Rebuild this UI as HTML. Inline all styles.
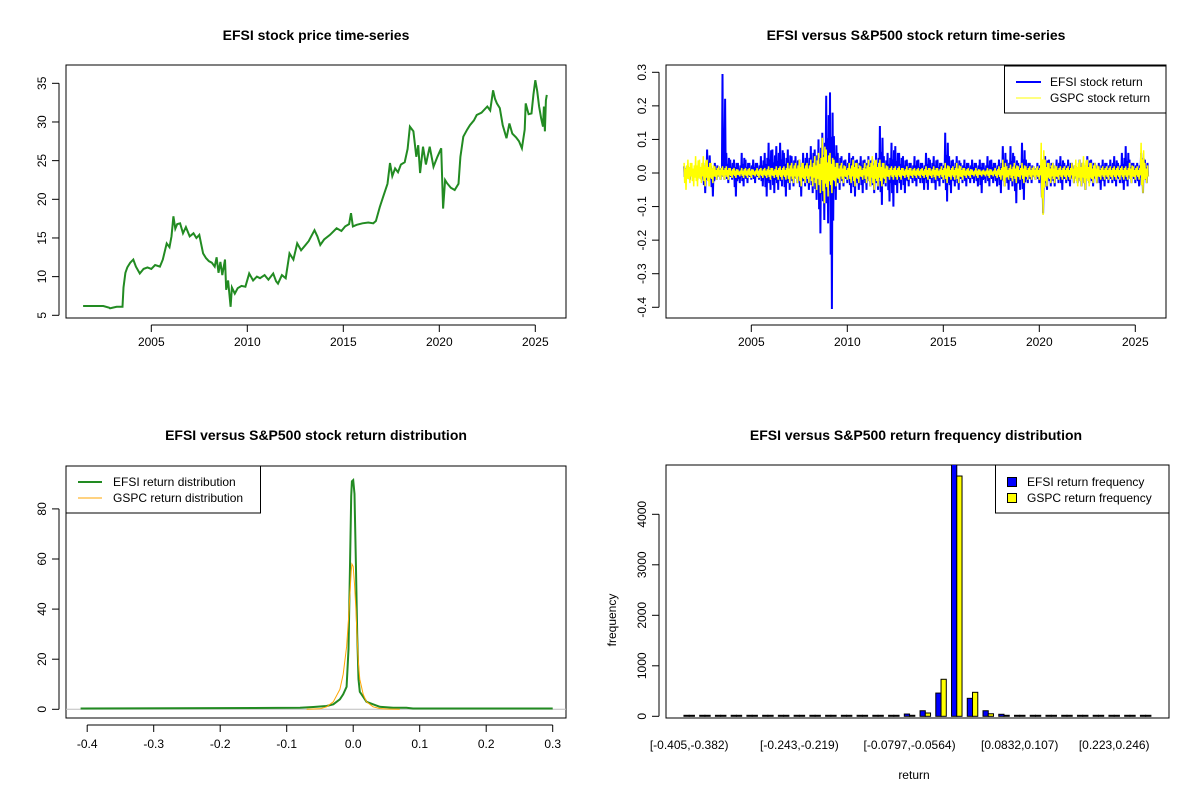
<!DOCTYPE html>
<html><head><meta charset="utf-8"><style>
html,body{margin:0;padding:0;background:#fff}
svg{display:block}
text{font-family:"Liberation Sans",Arial,sans-serif;fill:#000}
.t{font-weight:bold;font-size:14px}
.k{font-size:12px}
</style></head><body>
<svg id="c" width="1200" height="800" xmlns="http://www.w3.org/2000/svg">
<defs>
<clipPath id="c1"><rect x="66" y="65" width="500" height="253"/></clipPath>
<clipPath id="c2"><rect x="666" y="65" width="500" height="253"/></clipPath>
<clipPath id="c3"><rect x="66" y="466" width="500" height="252"/></clipPath>
<clipPath id="c4"><rect x="666" y="465" width="503" height="253"/></clipPath>
</defs>
<text class="t" x="316" y="40" text-anchor="middle">EFSI stock price time-series</text>
<text class="t" x="916" y="40" text-anchor="middle">EFSI versus S&amp;P500 stock return time-series</text>
<text class="t" x="316" y="440" text-anchor="middle">EFSI versus S&amp;P500 stock return distribution</text>
<text class="t" x="916" y="440" text-anchor="middle">EFSI versus S&amp;P500 return frequency distribution</text>
<rect x="66" y="65" width="500" height="253" fill="none" stroke="#000"/>
<rect x="666" y="65" width="500" height="253" fill="none" stroke="#000"/>
<rect x="66" y="466" width="500" height="252" fill="none" stroke="#000"/>
<rect x="666" y="465" width="503" height="253" fill="none" stroke="#000"/>
<text class="k" x="0" y="0" transform="translate(616,620) rotate(-90)" text-anchor="middle">frequency</text>
<text class="k" x="914" y="779" text-anchor="middle">return</text>
</svg>
<script>
// ---- data ----
const priceYears=[2001.45,2002.0,2002.5,2002.8,2002.85,2003.0,2003.2,2003.5,2003.55,2003.65,2003.75,2003.9,2004.06,2004.2,2004.4,2004.6,2004.8,2005.0,2005.2,2005.45,2005.6,2005.8,2005.95,2006.05,2006.15,2006.25,2006.35,2006.5,2006.65,2006.8,2007.0,2007.2,2007.35,2007.5,2007.6,2007.7,2007.85,2008.0,2008.15,2008.3,2008.4,2008.5,2008.6,2008.7,2008.84,2008.9,2009.0,2009.13,2009.2,2009.35,2009.5,2009.7,2009.9,2010.1,2010.3,2010.5,2010.66,2010.9,2011.1,2011.35,2011.5,2011.6,2011.8,2012.0,2012.2,2012.4,2012.6,2012.8,2013.0,2013.2,2013.5,2013.65,2013.8,2014.0,2014.3,2014.65,2014.9,2015.1,2015.3,2015.4,2015.5,2015.7,2016.0,2016.3,2016.56,2016.7,2016.9,2017.1,2017.3,2017.43,2017.55,2017.7,2017.85,2018.0,2018.2,2018.35,2018.47,2018.65,2018.8,2018.9,2019.0,2019.15,2019.3,2019.5,2019.7,2019.9,2020.1,2020.2,2020.3,2020.4,2020.6,2020.8,2021.0,2021.1,2021.25,2021.45,2021.6,2021.8,2021.95,2022.2,2022.5,2022.65,2022.8,2022.9,2023.0,2023.15,2023.3,2023.5,2023.65,2023.8,2024.0,2024.15,2024.3,2024.45,2024.5,2024.65,2024.8,2024.9,2025.0,2025.1,2025.2,2025.3,2025.4,2025.45,2025.5,2025.55,2025.6];
const priceValues=[6.2,6.2,6.2,6.0,5.9,6.0,6.1,6.1,8.6,10.5,11.2,11.8,12.2,11.3,10.4,11.0,11.2,11.0,11.5,11.3,12.2,14.3,13.8,15.2,17.8,16.2,16.8,16.9,15.6,16.4,15.2,15.6,15.0,15.4,14.2,13.0,12.4,12.0,11.8,11.3,12.5,10.5,11.9,10.2,12.2,8.3,9.5,6.1,8.6,7.8,8.5,8.8,8.7,10.4,9.5,10.0,9.8,10.2,9.6,10.4,9.4,9.1,10.2,9.8,13.0,12.2,14.3,13.4,14.0,14.6,16.0,15.2,14.1,14.8,15.4,16.25,15.9,16.5,16.8,18.2,16.5,16.7,16.9,17.0,16.9,17.2,19.0,20.5,22.0,24.7,23.0,24.0,23.5,24.5,24.8,26.5,29.4,28.8,25.5,27.0,23.4,26.8,24.5,26.8,24.2,25.5,26.6,18.8,22.5,22.1,21.5,21.2,22.0,25.5,28.1,29.0,29.6,30.2,30.9,31.2,32.0,31.5,34.1,33.0,32.4,31.8,29.6,27.9,29.8,28.5,28.0,27.5,26.6,29.0,32.4,31.0,31.1,33.5,35.4,34.0,32.0,30.5,29.4,32.0,28.8,32.8,33.5,36.0];
const priceYTicks=[5,10,15,20,25,30,35];
const yearTicks=[2005,2010,2015,2020,2025];

const retStartYear=2001.5, retStep=0.2;
const efsiHi=[.02,.02,.01,.02,.02, .03,.07,.02,.03,.02, .295,.06,.04,.04,.03, .06,.04,.03,.04,.03, .05,.06,.09,.07,.08, .09,.06,.07,.05,.05, .04,.06,.06,.08,.07, .1,.12,.23,.24,.11, .06,.05,.04,.06,.05, .04,.05,.04,.05,.04, .06,.14,.05,.06,.09, .08,.06,.05,.04,.03, .05,.04,.03,.06,.04, .05,.04,.03,.12,.05, .04,.05,.03,.04,.03, .04,.03,.04,.03,.05, .04,.03,.04,.08,.04, .08,.05,.03,.09,.04, .03,.02,.03,.02,.05, .04,.03,.04,.05,.03, .04,.03,.02,.04,.03, .05,.04,.03,.03,.04, .03,.04,.05,.03,.06, .08,.04,.03,.03,.06, .04];
const efsiLo=[-.02,-.02,-.01,-.02,-.02, -.06,-.02,-.07,-.02,-.02, -.02,-.03,-.02,-.07,-.03, -.04,-.03,-.02,-.03,-.02, -.04,-.07,-.05,-.06,-.05, -.04,-.07,-.05,-.04,-.03, -.07,-.04,-.05,-.06,-.08, -.18,-.14,-.15,-.405,-.08, -.05,-.04,-.03,-.06,-.07, -.05,-.06,-.05,-.04,-.06, -.05,-.095,-.04,-.085,-.1, -.06,-.05,-.06,-.04,-.03, -.04,-.03,-.05,-.05,-.03, -.05,-.04,-.03,-.085,-.06, -.04,-.05,-.03,-.04,-.03, -.03,-.04,-.06,-.03,-.04, -.03,-.04,-.06,-.04,-.05, -.04,-.09,-.05,-.08,-.03, -.03,-.02,-.03,-.12,-.05, -.04,-.04,-.03,-.05,-.03, -.04,-.03,-.03,-.04,-.05, -.03,-.04,-.03,-.05,-.04, -.03,-.03,-.04,-.03,-.05, -.04,-.03,-.03,-.04,-.06, -.03];
const gspcHi=[.03,.04,.03,.05,.04, .05,.04,.03,.02,.02, .02,.02,.015,.015,.01, .015,.015,.015,.01,.015, .015,.015,.02,.015,.02, .02,.02,.03,.03,.03, .04,.03,.03,.04,.05, .06,.105,.07,.06,.04, .03,.03,.02,.03,.04, .03,.02,.03,.04,.05, .04,.04,.03,.02,.02, .02,.02,.015,.02,.015, .015,.015,.015,.02,.015, .02,.015,.02,.03,.02, .02,.03,.02,.015,.015, .01,.015,.01,.01,.015, .01,.015,.02,.04,.02, .025,.03,.02,.03,.02, .02,.02,.02,.09,.04, .03,.03,.02,.02,.02, .02,.03,.04,.04,.05, .04,.03,.03,.02,.02, .02,.02,.02,.02,.02, .02,.03,.02,.02,.09, .03];
const gspcLo=[-.05,-.03,-.04,-.04,-.03, -.04,-.04,-.03,-.02,-.02, -.02,-.02,-.015,-.015,-.01, -.015,-.015,-.015,-.01,-.015, -.015,-.015,-.02,-.015,-.02, -.02,-.02,-.03,-.03,-.03, -.04,-.03,-.03,-.04,-.05, -.06,-.09,-.07,-.06,-.04, -.03,-.03,-.02,-.03,-.04, -.03,-.02,-.03,-.04,-.05, -.04,-.04,-.03,-.02,-.02, -.02,-.02,-.015,-.02,-.015, -.015,-.015,-.015,-.02,-.015, -.02,-.015,-.02,-.03,-.02, -.02,-.03,-.02,-.015,-.015, -.01,-.015,-.01,-.01,-.015, -.01,-.015,-.02,-.04,-.02, -.025,-.03,-.02,-.03,-.02, -.02,-.02,-.02,-.125,-.04, -.03,-.03,-.02,-.02,-.02, -.02,-.03,-.04,-.04,-.05, -.04,-.03,-.03,-.02,-.02, -.02,-.02,-.02,-.02,-.02, -.02,-.03,-.02,-.02,-.06, -.03];
const retYTicks=[-0.4,-0.3,-0.2,-0.1,0.0,0.1,0.2,0.3];
const retYLabels=["-0.4","-0.3","-0.2","-0.1","0.0","0.1","0.2","0.3"];

const densX=[-0.41,-0.08,-0.06,-0.04,-0.03,-0.02,-0.015,-0.01,-0.007,-0.005,-0.003,-0.002,0,0.002,0.004,0.006,0.008,0.01,0.015,0.02,0.03,0.04,0.06,0.08,0.09,0.3];
const efsiDens=[0.3,0.6,0.9,1.3,2,4,6,9,24,55,85,91,91.5,86,58,30,12,7,5,3,2,1,0.6,0.6,0.3,0.3];
const gspcDensX=[-0.07,-0.05,-0.04,-0.03,-0.02,-0.015,-0.01,-0.007,-0.005,-0.003,-0.002,0,0.002,0.004,0.006,0.008,0.01,0.015,0.02,0.03,0.04,0.05,0.07];
const gspcDens=[0,0.2,1,3,8,14,25,36,46,55,58,57,50,40,28,18,12,6,3,1,0.3,0.1,0];
const densXTicks=[-0.4,-0.3,-0.2,-0.1,0.0,0.1,0.2,0.3];
const densXLabels=["-0.4","-0.3","-0.2","-0.1","0.0","0.1","0.2","0.3"];
const densYTicks=[0,20,40,60,80];

const binLabels=["[-0.405,-0.382)","[-0.243,-0.219)","[-0.0797,-0.0564)","[0.0832,0.107)","[0.223,0.246)"];
const binLabelIdx=[0,7,14,21,27];
const efsiFreq=[1,0,0,0,0,0,0,0,0,0,0,0,3,15,45,110,460,5100,356,110,40,15,2,1,0,0,0,0,0,1];
const gspcFreq=[0,0,0,0,0,0,0,0,0,0,0,0,1,5,20,65,733,4758,475,50,10,3,0,0,0,0,0,0,0,0];
const freqYTicks=[0,1000,2000,3000,4000];

// ---- scales ----
const px1=y=>151.3+(y-2005)*19.2, py1=v=>315.3-(v-5)*7.733;
const px2=y=>751.3+(y-2005)*19.2, py2=r=>173-r*335.7;
const px3=v=>353.2+v*665, py3=d=>709.3-d*2.505;
const gx4=g=>689.2+g*15.74, py4=f=>716.3-f*0.0505;

const svg=document.getElementById('c');
const NS='http://www.w3.org/2000/svg';
function mk(tag,a){const e=document.createElementNS(NS,tag);for(const k in a)e.setAttribute(k,a[k]);svg.appendChild(e);return e;}
function txt(x,y,s,anchor,rot){const e=mk('text',{x:rot?0:x,y:rot?0:y,'class':'k','text-anchor':anchor||'middle'});if(rot)e.setAttribute('transform','translate('+x+','+y+') rotate(-90)');e.textContent=s;return e;}

// ---- panel 1 ----
let e;
e=mk('line',{x1:59,x2:59,y1:py1(5),y2:py1(35),stroke:'#000'});


priceYTicks.forEach(v=>{
  e=mk('line',{x1:52,x2:59,y1:py1(v),y2:py1(v),stroke:'#000'});
  
  
  e=txt(46,py1(v),String(v),'middle',true);
  
  
});
e=mk('line',{x1:px1(2005),x2:px1(2025),y1:325,y2:325,stroke:'#000'});


yearTicks.forEach(y=>{
  e=mk('line',{x1:px1(y),x2:px1(y),y1:325,y2:332,stroke:'#000'});
  
  
  e=txt(px1(y),346,String(y));
  
  
});
e=mk('polyline',{points:priceYears.map((y,i)=>px1(y).toFixed(1)+','+py1(priceValues[i]).toFixed(1)).join(' '),fill:'none',stroke:'#228B22','stroke-width':2,'clip-path':'url(#c1)'});



// ---- panel 2 ----
e=mk('line',{x1:659,x2:659,y1:py2(-0.4),y2:py2(0.3),stroke:'#000'});


retYTicks.forEach((v,i)=>{
  e=mk('line',{x1:652,x2:659,y1:py2(v),y2:py2(v),stroke:'#000'});
  
  
  e=txt(646,py2(v),retYLabels[i],'middle',true);
  
  
});
e=mk('line',{x1:px2(2005),x2:px2(2025),y1:325,y2:325,stroke:'#000'});


yearTicks.forEach(y=>{
  e=mk('line',{x1:px2(y),x2:px2(y),y1:325,y2:332,stroke:'#000'});
  
  
  e=txt(px2(y),346,String(y));
  
  
});
const hf=[1,0.45,0.75], lf=[0.6,1,0.35];
function zig(hi,lo){const p=[];hi.forEach((h,i)=>{const t=retStartYear+i*retStep;for(let k=0;k<6;k++){const yy=t+k*retStep/6;const v=(k%2===0)?h*hf[k>>1]:lo[i]*lf[k>>1];p.push(px2(yy).toFixed(1)+','+py2(v).toFixed(1));}});return p.join(' ');}
e=mk('polyline',{points:zig(efsiHi,efsiLo),fill:'none',stroke:'#0000FF','stroke-width':2,'clip-path':'url(#c2)'});


e=mk('polyline',{points:zig(gspcHi,gspcLo),fill:'none',stroke:'#FFFF00','stroke-width':1.5,'clip-path':'url(#c2)'});


e=mk('rect',{x:1004.5,y:66,width:161.5,height:47,fill:'#fff',stroke:'#000'});


e=mk('line',{x1:1016,x2:1041,y1:82,y2:82,stroke:'#0000FF','stroke-width':2});


e=txt(1050,86,'EFSI stock return','start');


e=mk('line',{x1:1016,x2:1041,y1:98,y2:98,stroke:'#FFFF00','stroke-width':1});


e=txt(1050,102,'GSPC stock return','start');



// ---- panel 3 ----
e=mk('line',{x1:59,x2:59,y1:py3(0),y2:py3(80),stroke:'#000'});


densYTicks.forEach(v=>{
  e=mk('line',{x1:52,x2:59,y1:py3(v),y2:py3(v),stroke:'#000'});
  
  
  e=txt(46,py3(v),String(v),'middle',true);
  
  
});
e=mk('line',{x1:px3(-0.4),x2:px3(0.3),y1:725,y2:725,stroke:'#000'});


densXTicks.forEach((v,i)=>{
  e=mk('line',{x1:px3(v),x2:px3(v),y1:725,y2:732,stroke:'#000'});
  
  
  e=txt(px3(v),748,densXLabels[i]);
  
  
});
e=mk('line',{x1:66,x2:566,y1:py3(0),y2:py3(0),stroke:'#BEBEBE'});


e=mk('polyline',{points:densX.map((x,i)=>px3(x).toFixed(1)+','+py3(efsiDens[i]).toFixed(1)).join(' '),fill:'none',stroke:'#228B22','stroke-width':2,'clip-path':'url(#c3)'});


e=mk('polyline',{points:gspcDensX.map((x,i)=>px3(x).toFixed(1)+','+py3(gspcDens[i]).toFixed(1)).join(' '),fill:'none',stroke:'#FFA500','stroke-width':1,'clip-path':'url(#c3)'});


e=mk('rect',{x:66,y:466,width:194.5,height:47,fill:'#fff',stroke:'#000'});


e=mk('line',{x1:78,x2:102,y1:482,y2:482,stroke:'#228B22','stroke-width':2});


e=txt(113,486,'EFSI return distribution','start');


e=mk('line',{x1:78,x2:102,y1:498,y2:498,stroke:'#FFA500','stroke-width':1});


e=txt(113,502,'GSPC return distribution','start');



// ---- panel 4 ----
e=mk('line',{x1:659,x2:659,y1:py4(0),y2:py4(4000),stroke:'#000'});


freqYTicks.forEach(v=>{
  e=mk('line',{x1:652,x2:659,y1:py4(v),y2:py4(v),stroke:'#000'});
  
  
  e=txt(646,py4(v),String(v),'middle',true);
  
  
});
const bw=5.25;
efsiFreq.forEach((f,g)=>{
  const c=gx4(g);
  const h1=Math.max(1,py4(0)-py4(f));
  e=mk('rect',{x:c-bw,y:py4(0)-h1,width:bw,height:h1,fill:'#0000FF',stroke:'#000','stroke-width':1,'clip-path':'url(#c4)'});
  
  
  const h2=Math.max(1,py4(0)-py4(gspcFreq[g]));
  e=mk('rect',{x:c,y:py4(0)-h2,width:bw,height:h2,fill:'#FFFF00',stroke:'#000','stroke-width':1,'clip-path':'url(#c4)'});
  
  
});
binLabelIdx.forEach((g,i)=>{
  e=txt(gx4(g),749,binLabels[i]);
  
  
});
e=mk('rect',{x:995.5,y:465,width:173.5,height:48,fill:'#fff',stroke:'#000'});


e=mk('rect',{x:1007.5,y:477.5,width:9,height:9,fill:'#0000FF',stroke:'#000'});


e=txt(1027,486,'EFSI return frequency','start');


e=mk('rect',{x:1007.5,y:493.5,width:9,height:9,fill:'#FFFF00',stroke:'#000'});


e=txt(1027,502,'GSPC return frequency','start');


</script>
</body></html>
